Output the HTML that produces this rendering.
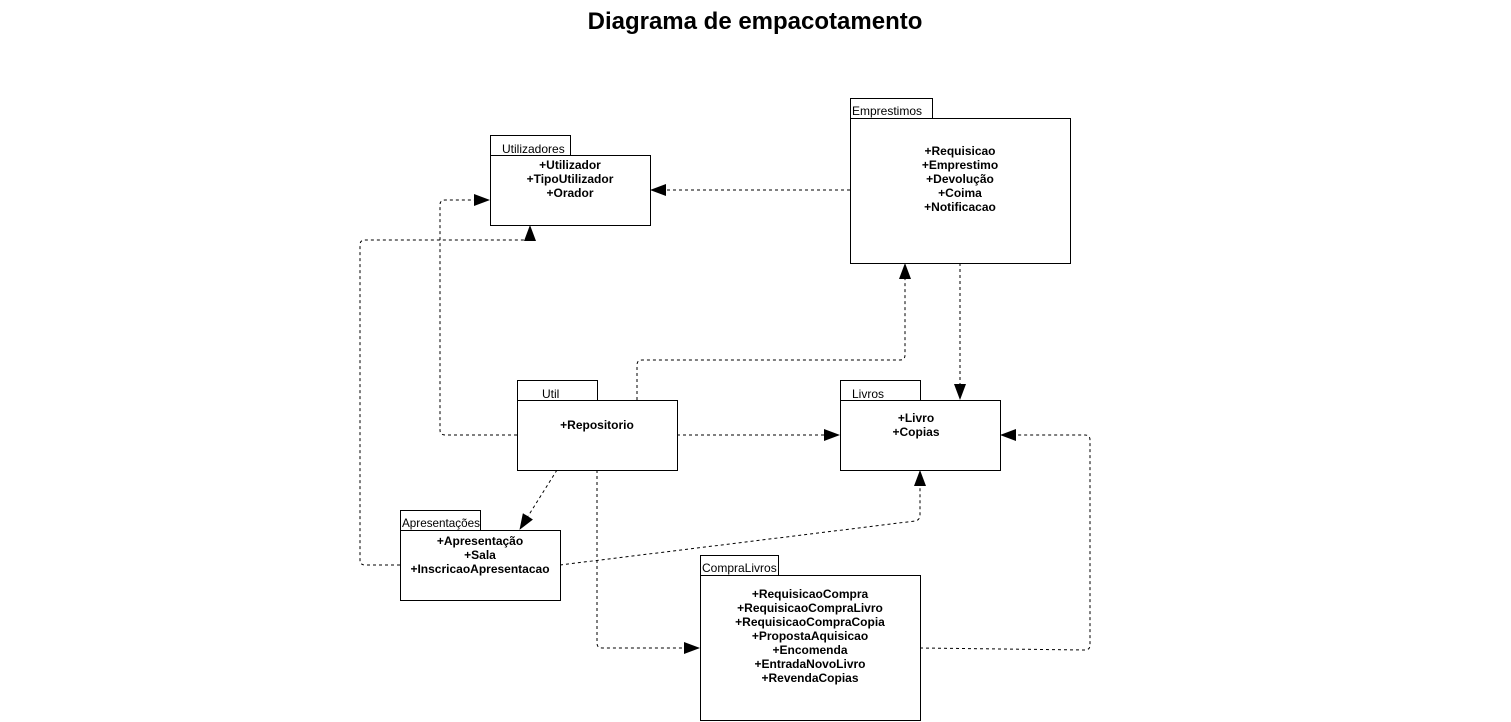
<!DOCTYPE html>
<html><head><meta charset="utf-8"><style>
html,body{margin:0;padding:0;background:#fff;}
svg{display:block;font-family:"Liberation Sans",sans-serif;}
.b{fill:#fff;stroke:#000;stroke-width:1;}
.t{font-size:12px;fill:#000;}
.m{font-size:12px;font-weight:bold;fill:#000;text-anchor:middle;}
.c{fill:none;stroke:#000;stroke-width:1;stroke-dasharray:3,3;}
</style></head><body>
<svg width="1511" height="722" viewBox="0 0 1511 722" xmlns="http://www.w3.org/2000/svg">
<defs><marker id="a" markerWidth="16" markerHeight="12" refX="15" refY="6" orient="auto" markerUnits="userSpaceOnUse"><path d="M0,0 L16,6 L0,12 Z" fill="#000"/></marker></defs>
<text x="755" y="29" text-anchor="middle" font-size="24" font-weight="bold">Diagrama de empacotamento</text>

<!-- connectors -->
<path class="c" d="M850,190 L651,190" marker-end="url(#a)"/>
<path class="c" d="M517,435 L445,435 Q440,435 440,430 L440,205 Q440,200 445,200 L489,200" marker-end="url(#a)"/>
<path class="c" d="M400,565 L365,565 Q360,565 360,560 L360,245 Q360,240 365,240 L530,240 L530,226" marker-end="url(#a)"/>
<path class="c" d="M637,400 L637,365 Q637,360 642,360 L900,360 Q905,360 905,355 L905,264" marker-end="url(#a)"/>
<path class="c" d="M960,263 L960,399" marker-end="url(#a)"/>
<path class="c" d="M677,435 L839,435" marker-end="url(#a)"/>
<path class="c" d="M557,470 L520,529" marker-end="url(#a)"/>
<path class="c" d="M597,470 L597,643 Q597,648 602,648 L699,648" marker-end="url(#a)"/>
<path class="c" d="M560,565 L915,521 Q920,520 920,515 L920,471" marker-end="url(#a)"/>
<path class="c" d="M920,648 L1085,650 Q1090,650 1090,645 L1090,440 Q1090,435 1085,435 L1001,435" marker-end="url(#a)"/>

<!-- Utilizadores -->
<rect class="b" x="490.5" y="135.5" width="80" height="20"/>
<rect class="b" x="490.5" y="155.5" width="160" height="70"/>
<text class="t" x="502" y="153">Utilizadores</text>
<text class="m" x="570" y="169">+Utilizador</text>
<text class="m" x="570" y="183">+TipoUtilizador</text>
<text class="m" x="570" y="197">+Orador</text>

<!-- Emprestimos -->
<rect class="b" x="850.5" y="98.5" width="82" height="20"/>
<rect class="b" x="850.5" y="118.5" width="220" height="145"/>
<text class="t" x="852" y="115">Emprestimos</text>
<text class="m" x="960" y="155">+Requisicao</text>
<text class="m" x="960" y="169">+Emprestimo</text>
<text class="m" x="960" y="183">+Devolução</text>
<text class="m" x="960" y="197">+Coima</text>
<text class="m" x="960" y="211">+Notificacao</text>

<!-- Util -->
<rect class="b" x="517.5" y="380.5" width="80" height="20"/>
<rect class="b" x="517.5" y="400.5" width="160" height="70"/>
<text class="t" x="542" y="398">Util</text>
<text class="m" x="597" y="429">+Repositorio</text>

<!-- Livros -->
<rect class="b" x="840.5" y="380.5" width="80" height="20"/>
<rect class="b" x="840.5" y="400.5" width="160" height="70"/>
<text class="t" x="852" y="398">Livros</text>
<text class="m" x="916" y="422">+Livro</text>
<text class="m" x="916" y="436">+Copias</text>

<!-- Apresentacoes -->
<rect class="b" x="400.5" y="510.5" width="80" height="20"/>
<rect class="b" x="400.5" y="530.5" width="160" height="70"/>
<text class="t" x="402" y="527" textLength="78" lengthAdjust="spacingAndGlyphs">Apresentações</text>
<text class="m" x="480" y="545">+Apresentação</text>
<text class="m" x="480" y="559">+Sala</text>
<text class="m" x="480" y="573">+InscricaoApresentacao</text>

<!-- CompraLivros -->
<rect class="b" x="700.5" y="555.5" width="78" height="20"/>
<rect class="b" x="700.5" y="575.5" width="220" height="145"/>
<text class="t" x="702" y="572">CompraLivros</text>
<text class="m" x="810" y="598">+RequisicaoCompra</text>
<text class="m" x="810" y="612">+RequisicaoCompraLivro</text>
<text class="m" x="810" y="626">+RequisicaoCompraCopia</text>
<text class="m" x="810" y="640">+PropostaAquisicao</text>
<text class="m" x="810" y="654">+Encomenda</text>
<text class="m" x="810" y="668">+EntradaNovoLivro</text>
<text class="m" x="810" y="682">+RevendaCopias</text>
</svg>
</body></html>
